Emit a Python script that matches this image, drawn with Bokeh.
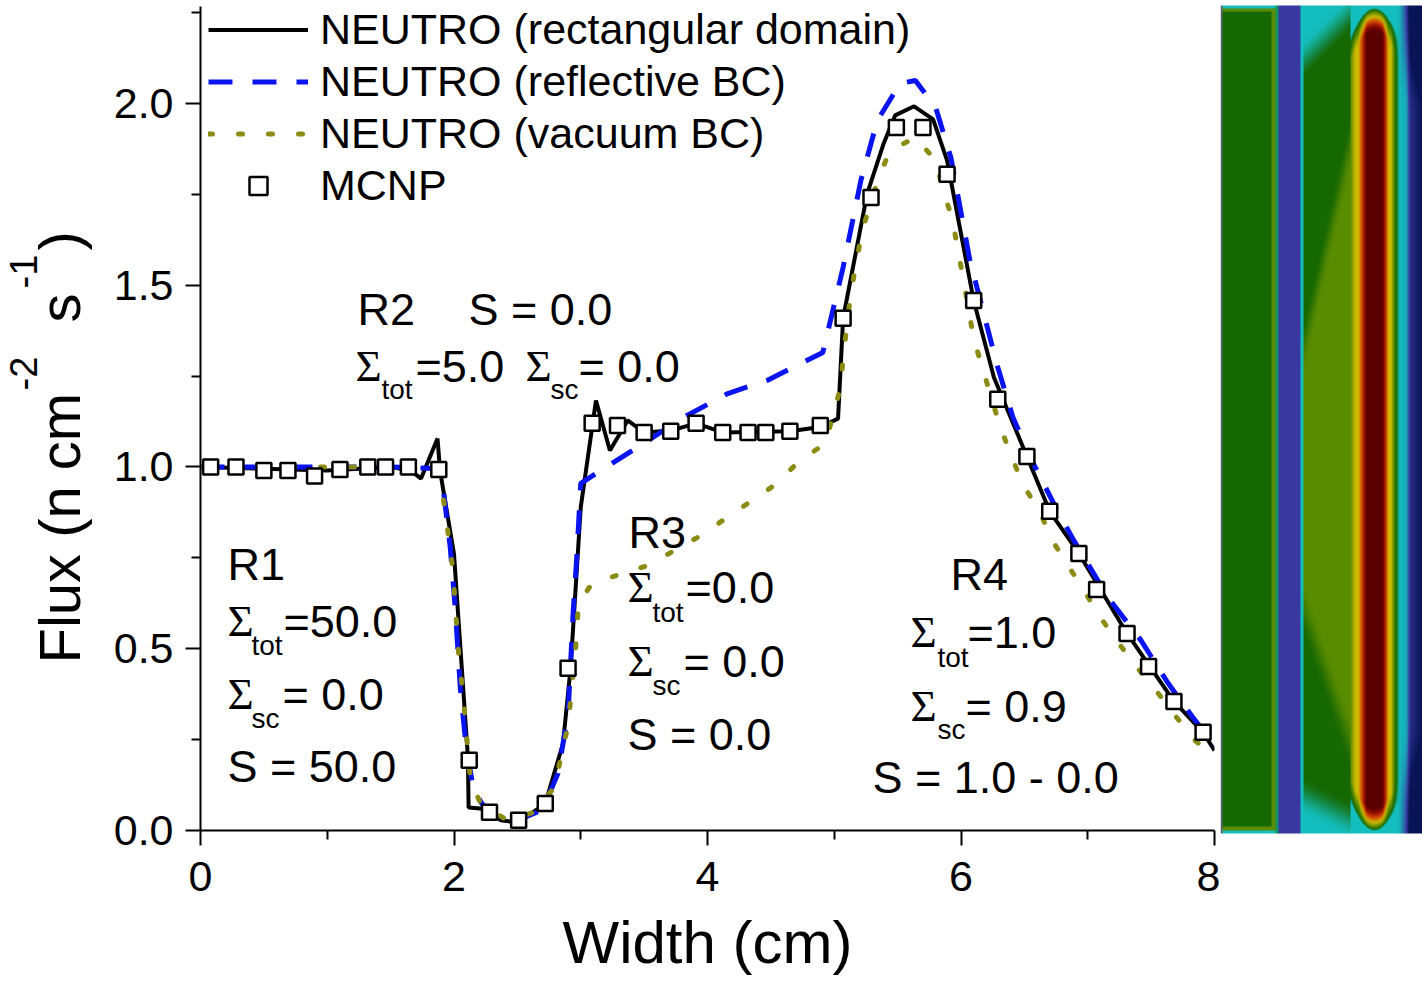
import numpy as np
from bokeh.plotting import figure
from bokeh.models import Range1d, FixedTicker, Legend, LegendItem, Label
from bokeh.core.properties import value
from bokeh.layouts import row
from bokeh.embed import file_html
from bokeh.resources import INLINE

# ---------------- data ----------------
x_ticks = [0, 2, 4, 6, 8]
x_tick_labels = ["0", "2", "4", "6", "8"]
x_minor = [1, 3, 5, 7]
y_ticks = [0.0, 0.5, 1.0, 1.5, 2.0]
y_tick_labels = ["0.0", "0.5", "1.0", "1.5", "2.0"]
y_minor = [0.25, 0.75, 1.25, 1.75, 2.25]

rect_x = [0.0, 0.5, 1.0, 1.5, 1.66, 1.74, 1.87, 1.89, 2.0, 2.11, 2.115, 2.23, 2.37, 2.51,
          2.72, 2.86, 2.92, 3.0, 3.12, 3.23, 3.37, 3.50, 3.71, 3.91, 4.12, 4.65, 4.89,
          5.03, 5.07, 5.26, 5.39, 5.48, 5.63, 5.78, 5.89, 6.10, 6.26, 6.52, 6.70, 6.93,
          7.31, 7.68, 7.91, 8.0]
rect_y = [1.0, 0.995, 0.99, 1.0, 0.99, 0.968, 1.078, 0.99, 0.76, 0.20, 0.063, 0.06, 0.028, 0.022,
          0.074, 0.239, 0.448, 0.889, 1.183, 1.045, 1.128, 1.095, 1.10, 1.12, 1.095, 1.098, 1.11,
          1.133, 1.409, 1.752, 1.89, 1.967, 1.992, 1.956, 1.843, 1.458, 1.246, 1.029, 0.878, 0.762,
          0.542, 0.355, 0.27, 0.22]

refl_x = [0.0, 0.5, 1.0, 1.5, 1.88, 1.91, 1.97, 2.01, 2.05, 2.09, 2.15, 2.22, 2.3, 2.5, 2.65,
          2.75, 2.82, 2.90, 2.94, 2.97, 3.0, 3.47, 3.81, 4.16, 4.47, 4.91, 5.07, 5.21, 5.34,
          5.52, 5.64, 5.80, 5.92, 6.07, 6.29, 6.41, 6.57, 6.76, 6.89, 7.16, 7.42, 7.63, 7.83, 8.0]
refl_y = [1.0, 1.0, 1.0, 1.0, 0.995, 0.955, 0.78, 0.61, 0.39, 0.25, 0.118, 0.074, 0.045, 0.028, 0.05,
          0.10, 0.157, 0.32, 0.60, 0.76, 0.955, 1.059, 1.136, 1.202, 1.238, 1.315, 1.549, 1.788, 1.953,
          2.055, 2.063, 1.989, 1.851, 1.568, 1.274, 1.136, 1.01, 0.88, 0.798, 0.641, 0.523, 0.407, 0.311, 0.234]

vac_x = [0.0, 0.5, 1.0, 1.5, 1.88, 1.93, 1.99, 2.04, 2.07, 2.13, 2.21, 2.42, 2.63, 2.79, 2.90,
         2.97, 2.98, 3.09, 3.33, 3.53, 3.94, 4.55, 4.71, 4.93, 5.05, 5.07, 5.13, 5.22, 5.35, 5.44,
         5.64, 5.80, 5.86, 5.93, 6.02, 6.10, 6.17, 6.31, 6.49, 6.61, 6.72, 6.97, 7.10, 7.24, 7.39,
         7.55, 7.69, 7.83, 8.0]
vac_y = [1.0, 1.0, 1.0, 1.0, 0.995, 0.88, 0.72, 0.47, 0.38, 0.138, 0.074, 0.028, 0.05, 0.118, 0.289,
         0.54, 0.624, 0.68, 0.707, 0.729, 0.81, 0.955, 1.012, 1.065, 1.219, 1.30, 1.477, 1.65, 1.796, 1.87,
         1.906, 1.843, 1.76, 1.684, 1.513, 1.353, 1.271, 1.109, 0.949, 0.886, 0.798, 0.66, 0.586, 0.517, 0.448,
         0.38, 0.316, 0.253, 0.20]

mcnp_x = [0.08, 0.28, 0.50, 0.69, 0.90, 1.10, 1.32, 1.46, 1.64, 1.88, 2.12, 2.28, 2.51, 2.72, 2.90,
          3.09, 3.29, 3.50, 3.71, 3.91, 4.12, 4.32, 4.46, 4.65, 4.89, 5.07, 5.29, 5.49, 5.70, 5.89,
          6.10, 6.29, 6.52, 6.70, 6.93, 7.07, 7.31, 7.48, 7.68, 7.91]
mcnp_y = [1.00, 1.00, 0.99, 0.99, 0.975, 0.993, 1.00, 1.00, 1.00, 0.993, 0.193, 0.05, 0.028, 0.074, 0.446,
          1.12, 1.114, 1.095, 1.098, 1.12, 1.095, 1.095, 1.095, 1.098, 1.114, 1.409, 1.741, 1.934, 1.934, 1.805,
          1.458, 1.186, 1.029, 0.878, 0.762, 0.663, 0.542, 0.451, 0.355, 0.27]

series_labels = ["NEUTRO (rectangular domain)", "NEUTRO (reflective BC)",
                 "NEUTRO (vacuum BC)", "MCNP"]
x_title = "Width (cm)"
y_title_parts = ["Flux (n cm", "-2", "s", "-1", ")"]

# ---------------- layout helpers (screen px -> data) ----------------
FL, FR, FT, FB = 200, 1214, 6, 830
XMAX = 8.0
PX_PER_Y = (830 - 12) / 2.25          # 2.25 sits at y=12 px
YMAX = (FB - FT) / PX_PER_Y
BASE_SHIFT = 0.36   # renderer puts the alphabetic baseline this many em too low
def dx(px):
    return (px - FL) / (FR - FL) * XMAX
def dy(py):
    return (FB - py) / PX_PER_Y

SANS = "Liberation Sans"
SERIF = "Liberation Serif"

def no_align(fig):
    if "frame_align" in fig.properties():
        fig.frame_align = False

# ---------------- left strip with the y title ----------------
LW = 100
pl = figure(width=LW, height=982, x_range=Range1d(0, LW), y_range=Range1d(0, 982),
            output_backend="svg", toolbar_location=None, min_border=0,
            x_axis_location=None, y_axis_location=None)
pl.grid.visible = False
pl.outline_line_color = None
pl.background_fill_color = "white"
pl.border_fill_color = "white"
no_align(pl)
yt_px = [80, 37, 80, 37, 80]
yt_py = [663, 390, 322, 288, 250]
yt_fs = [58, 38, 58, 38, 58]
for t, px, py, fs in zip(y_title_parts, yt_px, yt_py, yt_fs):
    pl.text(x=[px - BASE_SHIFT * fs], y=[982 - py], text=[t], angle=np.pi / 2,
            text_font=value(SANS), text_font_size=value(f"{fs}px"), text_align="left",
            text_baseline="alphabetic", text_color="black")

# ---------------- main plot ----------------
p = figure(width=1220 - LW, height=982, x_range=Range1d(0, XMAX), y_range=Range1d(0, YMAX),
           output_backend="svg", toolbar_location=None,
           min_border_left=FL - LW, min_border_right=6, min_border_top=FT, min_border_bottom=982 - FB)
p.outline_line_color = None
p.grid.visible = False
p.background_fill_color = "white"
p.border_fill_color = "white"

p.xaxis.ticker = FixedTicker(ticks=x_ticks, minor_ticks=x_minor)
p.xaxis.major_label_overrides = {t: l for t, l in zip(x_ticks, x_tick_labels)}
p.yaxis.ticker = FixedTicker(ticks=y_ticks, minor_ticks=y_minor)
p.yaxis.major_label_overrides = {t: l for t, l in zip(y_ticks, y_tick_labels)}
for ax in (p.xaxis[0], p.yaxis[0]):
    ax.axis_line_width = 2
    ax.axis_line_color = "black"
    ax.major_tick_line_width = 2
    ax.minor_tick_line_width = 2
    ax.major_tick_line_color = "black"
    ax.minor_tick_line_color = "black"
    ax.major_tick_in = 0
    ax.minor_tick_in = 0
    ax.major_tick_out = 15
    ax.minor_tick_out = 9
    ax.major_label_text_font = SANS
    ax.major_label_text_font_size = "43px"
    ax.major_label_text_color = "black"
p.yaxis.major_label_standoff = 12
p.xaxis.major_label_standoff = 16
p.xaxis.axis_label = x_title
p.xaxis.axis_label_text_font = SANS
p.xaxis.axis_label_text_font_size = "60px"
p.xaxis.axis_label_text_font_style = "normal"
p.xaxis.axis_label_text_color = "black"
p.xaxis.axis_label_standoff = 15

r_rect = p.line(rect_x, rect_y, line_color="black", line_width=4)
r_refl = p.line(refl_x, refl_y, line_color="#0a14f0", line_width=5, line_dash="24 20")
r_vac = p.line(vac_x, vac_y, line_color="#8c8c14", line_width=5, line_dash="4 26", line_cap="round")
r_mcnp = p.scatter(mcnp_x, mcnp_y, marker="square", size=15, fill_color="white",
                   line_color="black", line_width=2.5)

legend = Legend(items=[LegendItem(label=l, renderers=[r]) for l, r in
                       zip(series_labels, [r_rect, r_refl, r_vac, r_mcnp])],
                location=(8, 620), orientation="vertical",
                glyph_width=100, glyph_height=45, label_height=45, spacing=3,
                padding=0, margin=0, border_line_color=None, background_fill_alpha=0,
                label_standoff=12, label_text_font=SANS, label_text_font_size="43px",
                label_text_color="black")
p.add_layout(legend)

# ---------------- annotations ----------------
BIG, SUB, SIG = 45, 28, 45
notes = [
    ("R2", 357, 325, SANS, BIG), ("S = 0.0", 468, 325, SANS, BIG),
    ("Σ", 355, 382, SERIF, SIG), ("tot", 381, 399, SANS, SUB), ("=5.0", 415, 382, SANS, BIG),
    ("Σ", 525, 382, SERIF, SIG), ("sc", 550, 399, SANS, SUB), ("= 0.0", 578, 382, SANS, BIG),
    ("R1", 227, 580, SANS, BIG),
    ("Σ", 227, 637, SERIF, SIG), ("tot", 251, 655, SANS, SUB), ("=50.0", 283, 637, SANS, BIG),
    ("Σ", 227, 710, SERIF, SIG), ("sc", 251, 728, SANS, SUB), ("= 0.0", 282, 710, SANS, BIG),
    ("S = 50.0", 227, 782, SANS, BIG),
    ("R3", 628, 548, SANS, BIG),
    ("Σ", 627, 603, SERIF, SIG), ("tot", 652, 622, SANS, SUB), ("=0.0", 685, 603, SANS, BIG),
    ("Σ", 627, 677, SERIF, SIG), ("sc", 652, 695, SANS, SUB), ("= 0.0", 683, 677, SANS, BIG),
    ("S = 0.0", 627, 750, SANS, BIG),
    ("R4", 950, 590, SANS, BIG),
    ("Σ", 910, 648, SERIF, SIG), ("tot", 937, 667, SANS, SUB), ("=1.0", 967, 648, SANS, BIG),
    ("Σ", 910, 722, SERIF, SIG), ("sc", 937, 739, SANS, SUB), ("= 0.9", 965, 722, SANS, BIG),
    ("S = 1.0 - 0.0", 872, 793, SANS, BIG),
]
for txt, px, py, fnt, fs in notes:
    p.add_layout(Label(x=dx(px), y=dy(py - BASE_SHIFT * fs), text=txt, text_font=fnt,
                       text_font_size=f"{fs}px", text_align="left",
                       text_baseline="alphabetic", text_color="black"))

# ---------------- flux map picture on the right ----------------
HW, HH = 202, 828
SX = 1220 + np.arange(HW)[None, :] + 0.5 + np.zeros((HH, 1))
SY = 5 + np.arange(HH)[:, None] + 0.5 + np.zeros((1, HW))

def ss(t):
    t = np.clip(t, 0, 1)
    return t * t * (3 - 2 * t)

cm_v = [0.0, 0.15, 0.30, 0.42, 0.55, 0.68, 0.80, 0.90, 1.0]
cm_c = [(8, 20, 85), (56, 56, 160), (20, 190, 190), (22, 104, 0), (90, 140, 0),
        (205, 185, 0), (210, 80, 0), (150, 15, 0), (90, 0, 0)]

V = np.zeros((HH, HW))
V[:] = 0.42
slab_border = (SX > 1271) | (SY < 11) | (SY > 826)
V[slab_border] = 0.55
V[(SY < 8) | (SY > 830)] = 0.30
V[(SX >= 1275) & (SX < 1278)] = 0.36
V[(SX >= 1278) & (SX < 1300)] = 0.15
V[(SX >= 1300) & (SX < 1303)] = 0.30

bx = [1303, 1306, 1350, 1355, 1358, 1361, 1364, 1366, 1382, 1384, 1386, 1388, 1391, 1393,
      1396, 1399, 1406, 1410, 1422]
bv = [0.36, 0.42, 0.55, 0.68, 0.68, 0.80, 0.90, 1.0, 1.0, 0.90, 0.80, 0.68, 0.68, 0.55,
      0.42, 0.30, 0.28, 0.10, 0.0]
base = np.interp(SX, bx, bv)
yu = 317 - 4.4 * (SX - 1310)
yl = 620 + 2.9 * (SX - 1307)
band = ss((SY - yu) / 60 + 0.5) * (1 - ss((SY - yl) / 60 + 0.5))
vmid = 0.42 + 0.13 * band
ytop = np.maximum(60 - (SX - 1303) * 1.0, 10)
ybot = 795 + (SX - 1303) * 0.5
fade_g = ss((SY - ytop) / 40 + 0.5) * (1 - ss((SY - ybot) / 40 + 0.5))
xc = 1374
dxn = (SX - xc) / 22.0
dd = np.minimum(SY - 8, 830 - SY) - 25 * dxn ** 2
fade_r = np.clip(dd / 22, 0, 1) ** 0.6
right = SX >= 1303
vr = np.where(SX < 1350, vmid, base)
fade = np.where(SX < 1350, fade_g, np.where(SX <= 1398, fade_r, 1.0))
vr = 0.30 + (vr - 0.30) * fade
edge = np.minimum(SY - 5, 833 - SY)
vr = vr - 0.22 * ss((110 - edge) / 110) * ss((SX - 1396) / 18)
vr = np.clip(vr, 0, 1)
V = np.where(right, vr, V)

img = np.empty((HH, HW), dtype=np.uint32)
view = img.view(dtype=np.uint8).reshape((HH, HW, 4))
for k in range(3):
    view[:, :, k] = np.interp(V, cm_v, [c[k] for c in cm_c]).astype(np.uint8)
view[:, :, 3] = 255
gray = SX < 1222
view[gray, 0], view[gray, 1], view[gray, 2] = 90, 96, 112
img = np.ascontiguousarray(np.flipud(img))

p2 = figure(width=202, height=982, x_range=Range1d(0, 202), y_range=Range1d(0, 982),
            output_backend="svg", toolbar_location=None, min_border=0,
            x_axis_location=None, y_axis_location=None)
p2.grid.visible = False
p2.outline_line_color = None
p2.background_fill_color = "white"
p2.border_fill_color = "white"
no_align(p2)
p2.image_rgba(image=[img], x=0, y=982 - 833, dw=202, dh=828)

layout = row(pl, p, p2, spacing=0)
open("out.html", "w").write(file_html(layout, INLINE))
